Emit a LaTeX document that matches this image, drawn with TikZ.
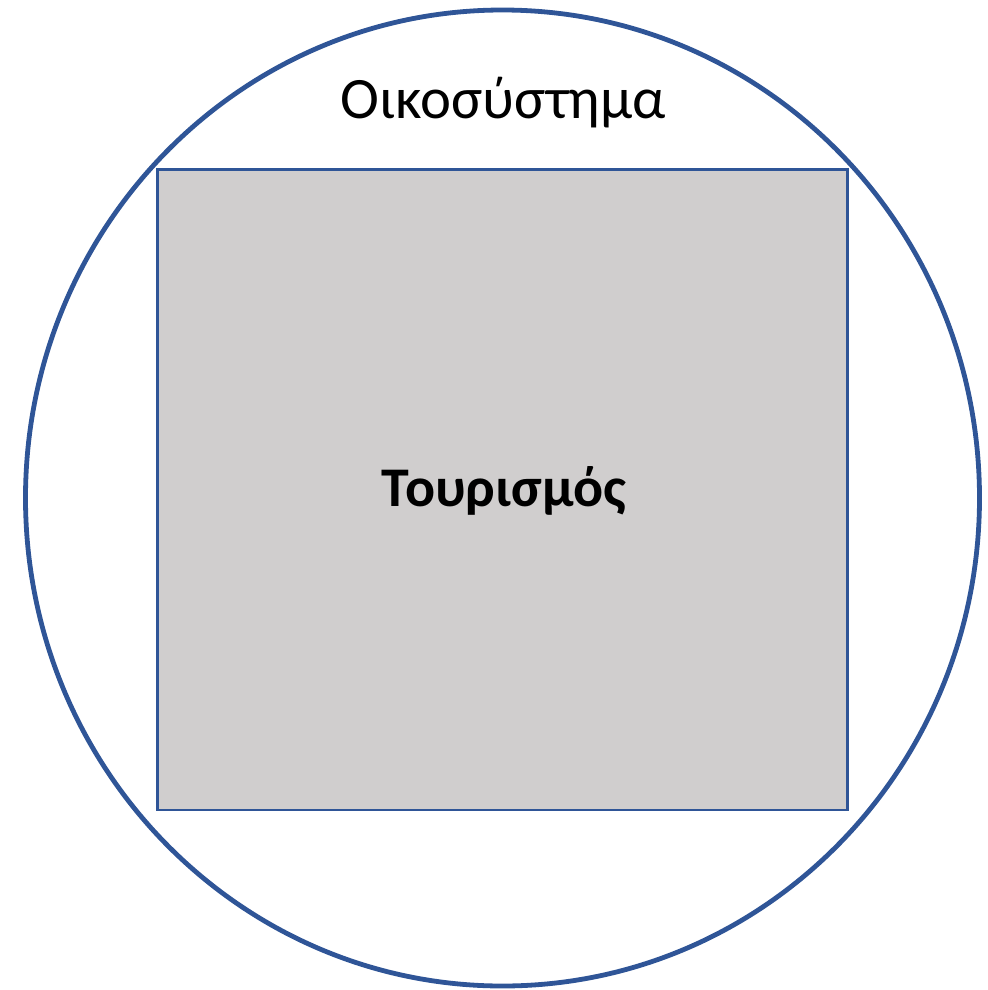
\documentclass[tikz,border=0pt]{standalone}
\usepackage{fontspec}
\setmainfont{Carlito}
\usetikzlibrary{positioning, shapes.geometric}
\definecolor{ecoblue}{RGB}{47,85,151}
\definecolor{tourgray}{RGB}{208,206,206}

\begin{document}
\begin{tikzpicture}[
    x=0.75pt, y=-0.75pt,
    font=\fontsize{44}{52}\selectfont,
    eco/.style={ellipse, draw=ecoblue, line width=3.6pt, minimum width=715.5pt, minimum height=732pt, inner sep=0pt},
    tour/.style={rectangle, draw=ecoblue, fill=tourgray, line width=1.6pt, minimum width=517.5pt, minimum height=480.4pt, inner sep=0pt},
    ttl/.style={anchor=base, inner sep=0pt}
]
\useasboundingbox (0,0) rectangle (988,990);
\node[eco] (eco) at (502.5,498) {};
\node[tour] (tour) at (502.5,489.75) {};
\node[ttl] (ecot) at (503,118) {Οικοσύστημα};
\node[ttl, font=\fontsize{42}{50}\selectfont\bfseries] (tourt) at (504,506) {Τουρισμός};
\end{tikzpicture}
\end{document}
